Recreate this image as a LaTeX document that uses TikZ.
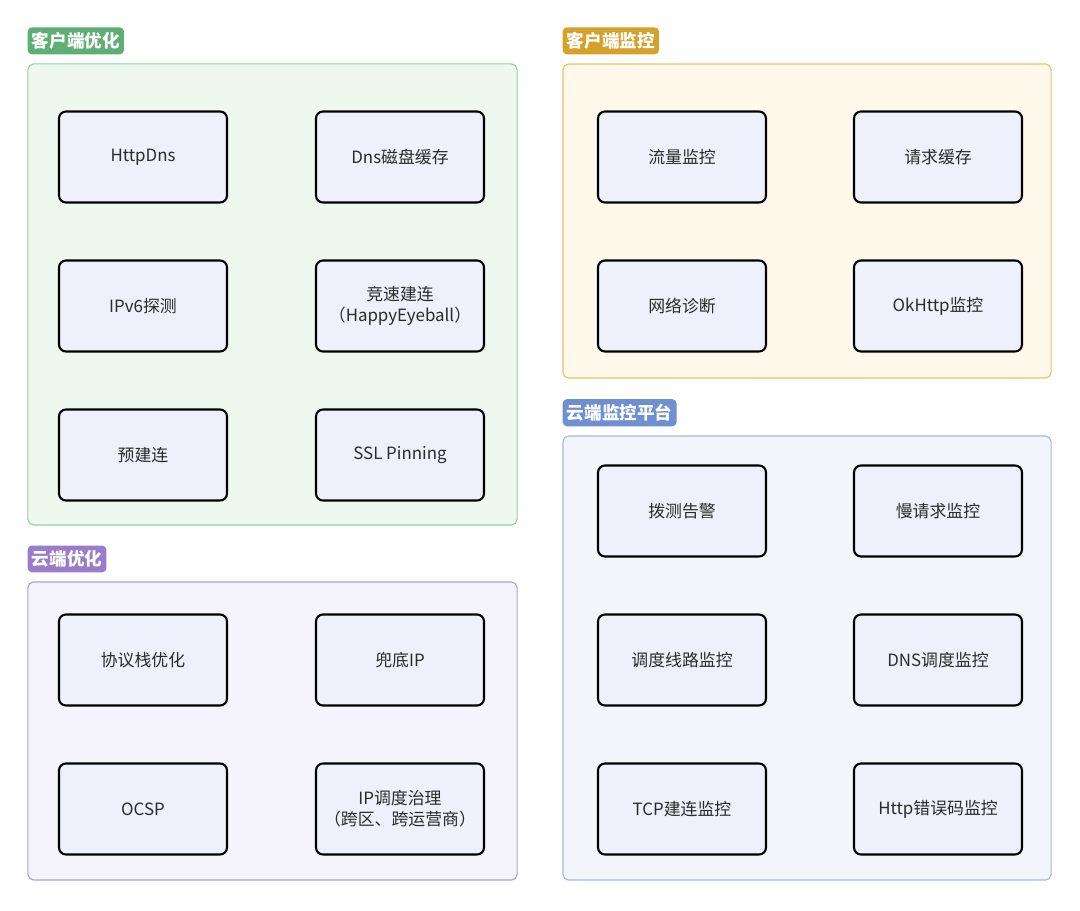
\documentclass[tikz,border=0pt]{standalone}
\usepackage{fontspec}
\setmainfont{Noto Sans CJK SC}
\usetikzlibrary{positioning}
\definecolor{optGreen}{HTML}{5FAE73}
\definecolor{optGreenFill}{HTML}{EFF8EF}
\definecolor{optGreenLine}{HTML}{9ACDA5}
\definecolor{monGold}{HTML}{D4A22A}
\definecolor{monGoldFill}{HTML}{FFF9EC}
\definecolor{monGoldLine}{HTML}{E8C06A}
\definecolor{cloudBlue}{HTML}{6E8FD0}
\definecolor{cloudBlueFill}{HTML}{F2F5FB}
\definecolor{cloudBlueLine}{HTML}{A6B8DA}
\definecolor{cloudPurple}{HTML}{9A7DC8}
\definecolor{cloudPurpleFill}{HTML}{F5F3FB}
\definecolor{cloudPurpleLine}{HTML}{ACA0D4}
\definecolor{itemFill}{HTML}{EEF0FB}
\definecolor{itemInk}{HTML}{2B2B2B}
\tikzset{
  every node/.style={font=\fontsize{12}{15}\selectfont, text=itemInk},
  group/.style={
    rounded corners=4pt,
    line width=0.8pt,
    inner sep=0pt
  },
  tag/.style={
    rounded corners=3pt,
    inner xsep=3pt,
    inner ysep=3.5pt,
    anchor=south west,
    text=white,
    font=\bfseries\fontsize{12.5}{14}\selectfont
  },
  item/.style={
    draw=black,
    fill=itemFill,
    line width=1.5pt,
    rounded corners=5pt,
    minimum width=4.2cm,
    minimum height=2.275cm,
    align=center
  }
}
\begin{document}
\begin{tikzpicture}[x=0.025cm, y=-0.025cm]
  \useasboundingbox[fill=white] (0,0) rectangle (1080,911);

  % group frames
  \node[group, draw=optGreenLine, fill=optGreenFill,
    minimum width=12.225cm, minimum height=11.525cm] (clientOpt) at (272.5,294.5) {};
  \node[group, draw=monGoldLine, fill=monGoldFill,
    minimum width=12.2cm, minimum height=7.85cm] (clientMon) at (807,221) {};
  \node[group, draw=cloudPurpleLine, fill=cloudPurpleFill,
    minimum width=12.225cm, minimum height=7.45cm] (cloudOpt) at (272.5,731) {};
  \node[group, draw=cloudBlueLine, fill=cloudBlueFill,
    minimum width=12.2cm, minimum height=11.1cm] (cloudMon) at (807,658) {};

  % group tags
  \node[tag, fill=optGreen, above=0.22cm of clientOpt.north west, anchor=south west] (clientOptTag) {客户端优化};
  \node[tag, fill=monGold, above=0.22cm of clientMon.north west, anchor=south west] (clientMonTag) {客户端监控};
  \node[tag, fill=cloudPurple, above=0.22cm of cloudOpt.north west, anchor=south west] (cloudOptTag) {云端优化};
  \node[tag, fill=cloudBlue, above=0.22cm of cloudMon.north west, anchor=south west] (cloudMonTag) {云端监控平台};

  % client optimisation
  \node[item] (httpDns) at (143,157) {HttpDns};
  \node[item] (dnsCache) at (400,157) {Dns磁盘缓存};
  \node[item] (ipv6) at (143,306) {IPv6探测};
  \node[item] (happyEye) at (400,306) {竞速建连\\（HappyEyeball）};
  \node[item] (preConn) at (143,455) {预建连};
  \node[item] (sslPin) at (400,455) {SSL Pinning};

  % client monitoring
  \node[item] (traffic) at (682,157) {流量监控};
  \node[item] (reqCache) at (938,157) {请求缓存};
  \node[item] (netDiag) at (682,306) {网络诊断};
  \node[item] (okHttp) at (938,306) {OkHttp监控};

  % cloud optimisation
  \node[item] (stackOpt) at (143,660) {协议栈优化};
  \node[item] (fallbackIp) at (400,660) {兜底IP};
  \node[item] (ocsp) at (143,809) {OCSP};
  \node[item] (ipSched) at (400,809) {IP调度治理\\（跨区、跨运营商）};

  % cloud monitoring platform
  \node[item] (probeAlarm) at (682,511) {拨测告警};
  \node[item] (slowReq) at (938,511) {慢请求监控};
  \node[item] (routeMon) at (682,660) {调度线路监控};
  \node[item] (dnsSched) at (938,660) {DNS调度监控};
  \node[item] (tcpConn) at (682,809) {TCP建连监控};
  \node[item] (httpErr) at (938,809) {Http错误码监控};
\end{tikzpicture}
\end{document}
